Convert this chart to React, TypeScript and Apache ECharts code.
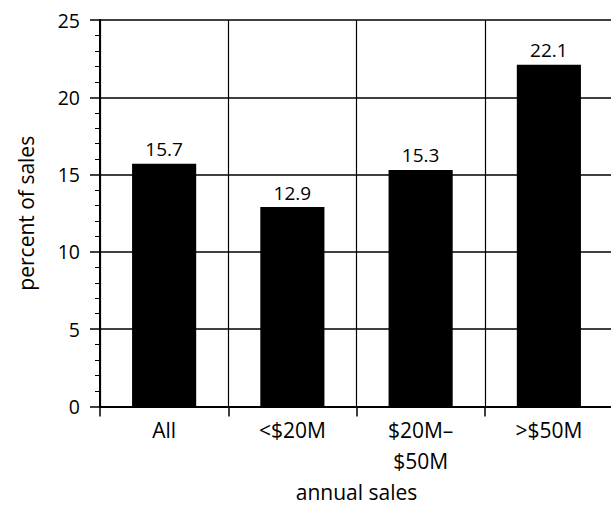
import React, { useEffect, useRef } from "react";
import * as echarts from "echarts";

const categories = ["All", "<$20M", "$20M–\n$50M", ">$50M"];
const values = [15.7, 12.9, 15.3, 22.1];
const yTicks = [0, 5, 10, 15, 20, 25];

const FONT = "'Open Sans', 'Noto Sans', sans-serif";

export default function App() {
  const ref = useRef<HTMLDivElement>(null);
  useEffect(() => {
    document.body.style.margin = "0";
    const chart = echarts.init(ref.current!, null, { renderer: "svg" });
    chart.setOption({
      animation: false,
      backgroundColor: "#fff",
      grid: { left: 100, right: -2, top: 20, bottom: 98.5, outerBoundsMode: "none", containLabel: false },
      xAxis: {
        type: "category",
        data: categories,
        name: "annual sales",
        nameLocation: "middle",
        nameGap: 71,
        nameTextStyle: { color: "#000", fontSize: 21, fontFamily: FONT },
        axisLine: { lineStyle: { color: "#000", width: 2 } },
        axisTick: { show: true, length: 10, lineStyle: { color: "#000", width: 1.5 } },
        axisLabel: { color: "#000", fontSize: 21, fontFamily: FONT, margin: 8, lineHeight: 31 },
        splitLine: { show: true, lineStyle: { color: "#000", width: 1.2 } },
      },
      yAxis: {
        type: "value",
        min: yTicks[0],
        max: yTicks[yTicks.length - 1],
        interval: 5,
        name: "percent of sales",
        nameLocation: "middle",
        nameGap: 64,
        nameTextStyle: { color: "#000", fontSize: 21, fontFamily: FONT },
        axisLine: { show: true, lineStyle: { color: "#000", width: 2 } },
        axisTick: { show: true, length: 10, lineStyle: { color: "#000", width: 1.5 } },
        minorTick: { show: true, splitNumber: 5, length: 5, lineStyle: { color: "#000", width: 1 } },
        axisLabel: { color: "#000", fontSize: 19.5, fontFamily: FONT, margin: 20 },
        splitLine: { show: true, lineStyle: { color: "#000", width: 1.5 } },
      },
      series: [
        {
          type: "bar",
          data: values,
          barWidth: "50%",
          itemStyle: { color: "#000" },
          label: {
            show: true,
            position: "top",
            distance: 5,
            color: "#000",
            fontSize: 19,
            fontFamily: FONT,
            formatter: (p: any) => p.value.toFixed(1),
          },
        },
      ],
    });
    return () => chart.dispose();
  }, []);
  return <div ref={ref} style={{ width: 611, height: 505 }} />;
}
